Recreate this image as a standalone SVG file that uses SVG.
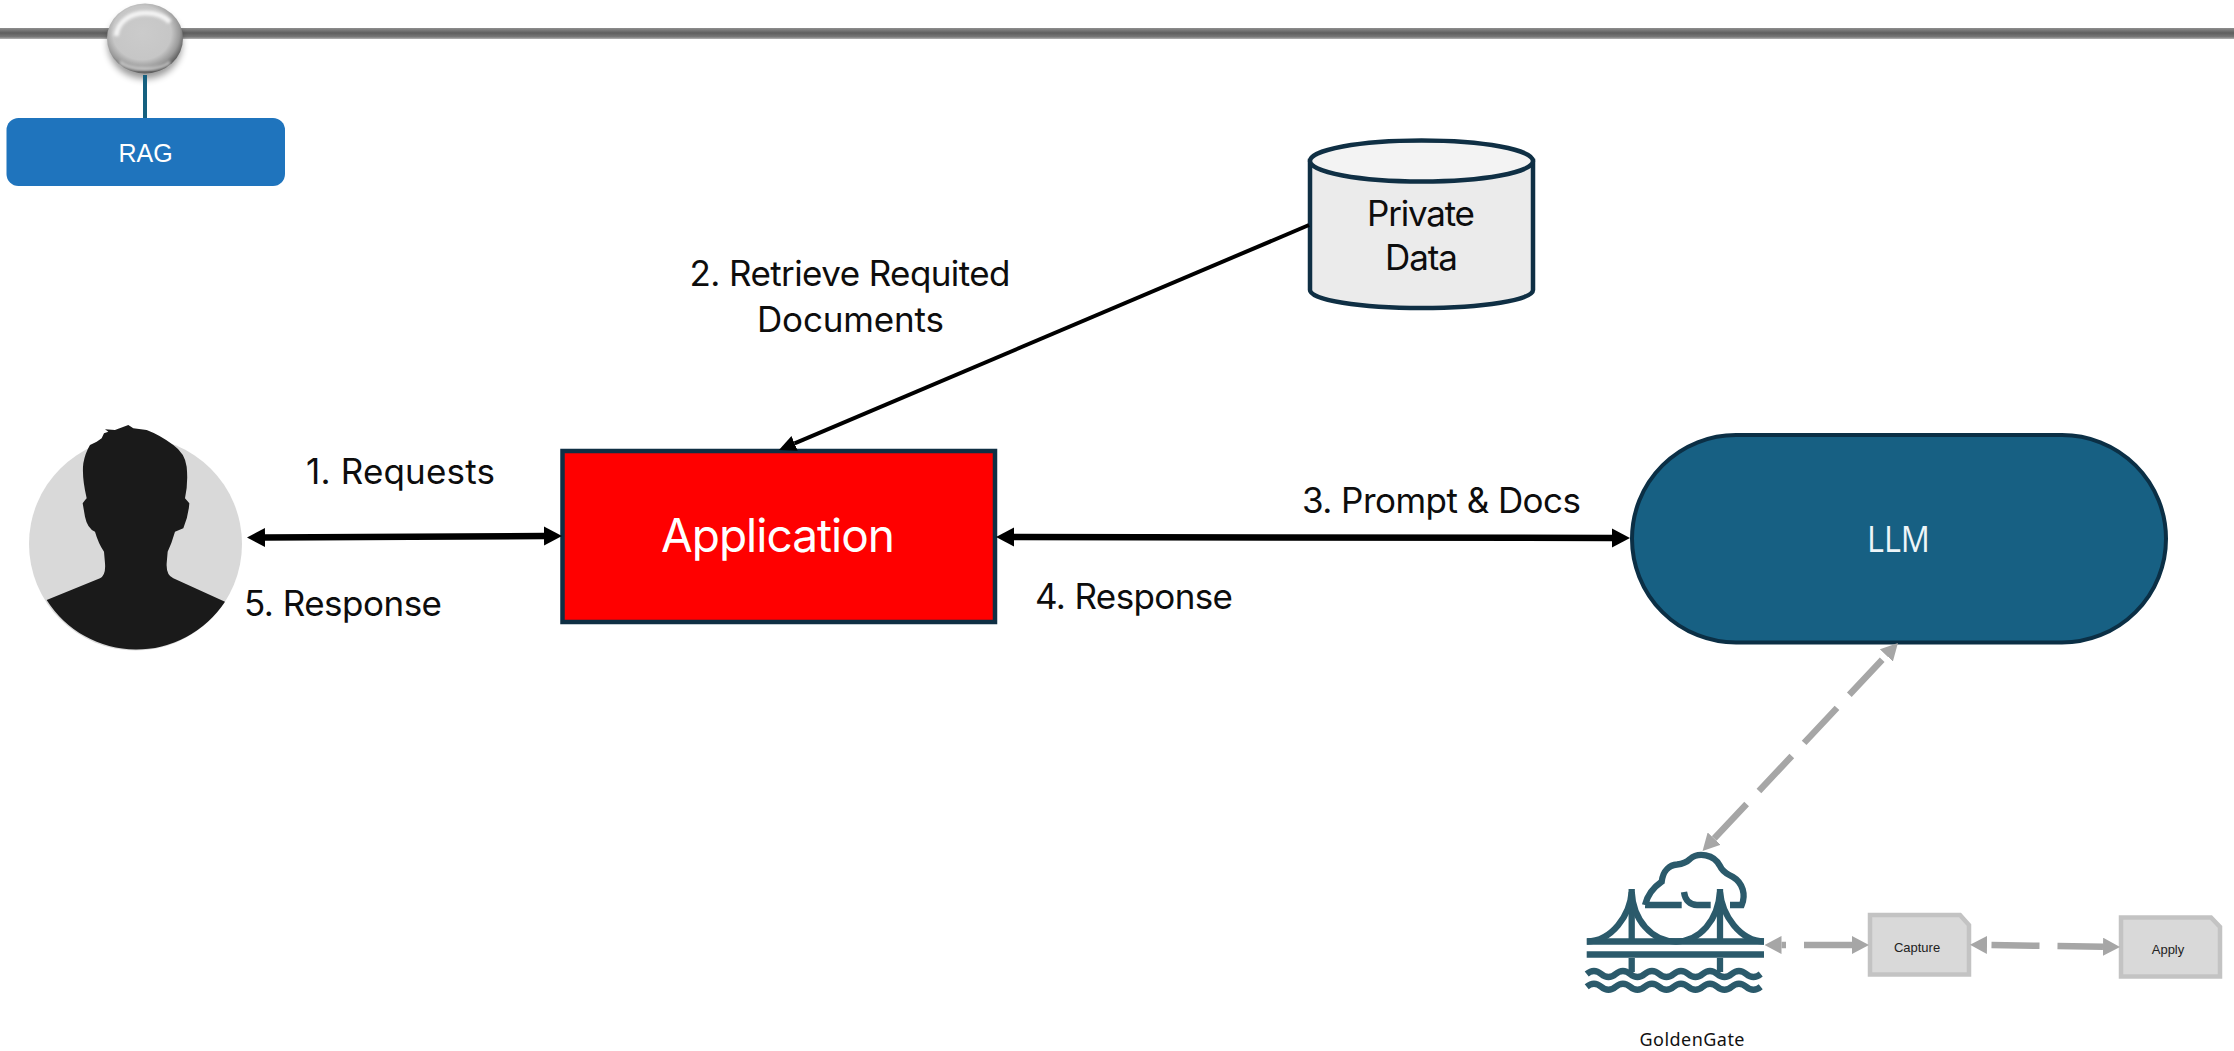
<svg xmlns="http://www.w3.org/2000/svg" width="2234" height="1051" viewBox="0 0 2234 1051">
<style>
text{font-family:"Inter","Roboto","Liberation Sans",sans-serif;fill:#0d0d0d;font-size:35px;text-anchor:middle}
.w{fill:#fff}
.s{font-family:"Liberation Sans",sans-serif;font-size:13px;fill:#222}
.dk{stroke:#0f2f44;stroke-width:4.500}
.con{fill:none;stroke:#000}
.gr{fill:none;stroke:#a6a6a6;stroke-width:6.500}
.ic{fill:none;stroke:#2b5a6b;stroke-width:6.300}
.doc{fill:#d9d9d9;stroke:#c3c3c3;stroke-width:4.500}
</style>
<defs>
<linearGradient id="bar" x1="0" y1="0" x2="0" y2="1"><stop offset="0" stop-color="#8e8e8e"/><stop offset=".45" stop-color="#5e5e5e"/><stop offset=".8" stop-color="#777"/><stop offset="1" stop-color="#b5b5b5"/></linearGradient>
<radialGradient id="ball" cx=".46" cy=".42" r=".62"><stop offset="0" stop-color="#cbcbcb"/><stop offset=".62" stop-color="#c6c6c6"/><stop offset=".8" stop-color="#9a9a9a"/><stop offset="1" stop-color="#3f3f3f"/></radialGradient>
<filter id="blur" x="-30%" y="-30%" width="160%" height="160%"><feGaussianBlur stdDeviation="3.500"/></filter>
<filter id="soft" x="-30%" y="-30%" width="160%" height="160%"><feGaussianBlur stdDeviation="1.800"/></filter>
<marker id="hb" markerUnits="userSpaceOnUse" markerWidth="18" markerHeight="20" refX="0" refY="10" orient="auto-start-reverse"><path d="M0 0.500L18 10L0 19.500Z" fill="#000"/></marker>
<marker id="hn" markerUnits="userSpaceOnUse" markerWidth="17" markerHeight="16" refX="0" refY="8" orient="auto-start-reverse"><path d="M0 0L17 8L0 16Z" fill="#000"/></marker>
<marker id="hg" markerUnits="userSpaceOnUse" markerWidth="17" markerHeight="18" refX="0" refY="9" orient="auto-start-reverse"><path d="M0 0L17 9L0 18Z" fill="#a6a6a6"/></marker>
</defs>
<rect width="2234" height="1051" fill="#fff"/>

<g id="timeline">
<rect x="0" y="28" width="2234" height="11" fill="url(#bar)"/>
<ellipse cx="145" cy="44" rx="37" ry="35" fill="#000" opacity=".4" filter="url(#blur)"/>
<ellipse cx="145" cy="38.500" rx="38" ry="35" fill="url(#ball)"/>
<path d="M116 36C118 20 132 13 146 13C156 13 164 16 170 22" fill="none" stroke="#f4f4f4" stroke-width="5" filter="url(#soft)"/>
<path d="M120 62C130 71 160 71 170 62" fill="none" stroke="#cfcfcf" stroke-width="3" filter="url(#soft)"/>
<path d="M145 75V118" stroke="#15607f" stroke-width="4" fill="none"/>
</g>

<g id="rag">
<rect x="6.500" y="118" width="278.500" height="68" rx="12" fill="#1f74bd"/>
<text class="w" x="145.500" y="161.500" style="font-family:'Liberation Sans',sans-serif;font-size:25px">RAG</text>
</g>

<g id="user">
<circle cx="135.500" cy="544" r="106.500" fill="#d9d9d9"/>
<path transform="translate(0 400) scale(.33333)" fill="#1a1a1a" d="M140 600L300 535Q318 525 315 490L312 455Q295 430 285 395Q262 385 255 350L248 310Q255 300 260 295Q245 230 250 190Q255 160 270 135L290 125L305 115L312 100L325 95L315 88L345 90L385 75L400 85L440 90Q480 105 520 135Q555 160 560 200Q565 250 555 295L568 310Q565 350 550 385L525 395Q515 430 503 455L500 490Q498 525 520 535L675 605A318 318 0 0 1 140 600Z"/>
</g>

<g id="application">
<rect class="dk" x="562.500" y="451" width="432.500" height="171" fill="#f00"/>
<text class="w" x="778" y="552" style="font-size:46px" textLength="234">Application</text>
</g>

<g id="private-data">
<path class="dk" fill="#ebebeb" d="M1310 161V290C1310 300 1360 308 1421.500 308S1533 300 1533 290V161Z"/>
<ellipse class="dk" cx="1421.500" cy="161" rx="111.500" ry="20.500" fill="#f3f3f3"/>
<text x="1421" y="226" textLength="108">Private</text>
<text x="1421.500" y="270" textLength="73">Data</text>
</g>

<g id="llm">
<rect x="1632" y="435" width="534" height="207.500" rx="104" fill="#176083" stroke="#0b2f45" stroke-width="4"/>
<text class="w" x="1898.500" y="551.500" lengthAdjust="spacingAndGlyphs" style="font-family:'Open Sans',sans-serif;font-size:36px;fill:#eef5f8" textLength="63">LLM</text>
</g>

<g id="goldengate">
<path class="ic" d="M1586.700 941.500H1764M1586.700 954.500H1764M1631.700 889V940M1720 889V940M1631.700 958V972M1720 958V972"/>
<path class="ic" d="M1631.700 892C1630 915 1612 941 1587 941.500M1631.700 892C1633 920 1652 941.500 1676 941.500S1718 920 1720 892M1720 892C1722 915 1740 941 1764 941.500"/>
<path class="ic" d="M1645 905C1648 893 1654 887 1661.700 881.700C1663 870 1670 865 1677 864.500C1682 864 1686 863 1690 859C1698 852 1714 854 1720 866C1723 873 1728 874 1733 877C1743 883 1746 895 1741.700 905H1730M1645 905H1681.700M1684 892C1685 900 1690 905 1697 905H1710.700"/>
<path class="ic" d="M1586.700 974q7.250 -6 14.500 0t14.500 0t14.500 0t14.500 0t14.500 0t14.500 0t14.500 0t14.500 0t14.500 0t14.500 0t14.500 0t14.500 0M1586.700 986.700q7.250 -6 14.500 0t14.500 0t14.500 0t14.500 0t14.500 0t14.500 0t14.500 0t14.500 0t14.500 0t14.500 0t14.500 0t14.500 0"/>
<text x="1692" y="1046" style="font-family:'Noto Sans',sans-serif;font-size:18px;fill:#111" textLength="105">GoldenGate</text>
</g>

<g id="capture">
<path class="doc" d="M1870 915H1960L1969 925V974.500H1870Z"/>
<text class="s" x="1917" y="952">Capture</text>
</g>

<g id="apply">
<path class="doc" d="M2121 917.500H2211L2220 927V976.500H2121Z"/>
<text class="s" x="2168" y="954">Apply</text>
</g>

<g id="connectors">
<path class="con" stroke-width="6.500" marker-start="url(#hb)" marker-end="url(#hb)" d="M265 537.500L544 536"/>
<path class="con" stroke-width="6.500" marker-start="url(#hb)" marker-end="url(#hb)" d="M1014 537L1612 538"/>
<path class="con" stroke-width="4" marker-end="url(#hn)" d="M1309 225L794.600 443.400"/>
<path class="gr" stroke-dasharray="48 18" stroke-dashoffset="60" marker-start="url(#hg)" marker-end="url(#hg)" d="M1886.300 655.400L1714.200 838.600"/>
<path class="gr" stroke-dasharray="48 18" marker-start="url(#hg)" marker-end="url(#hg)" d="M1852 945L1781.500 945"/>
<path class="gr" stroke-dasharray="48 18" stroke-dashoffset="61.500" marker-start="url(#hg)" marker-end="url(#hg)" d="M1987 945L2103 946.700"/>
</g>

<g id="labels">
<text x="850" y="286" textLength="321">2. Retrieve Requited</text>
<text x="850.500" y="331.500" textLength="187">Documents</text>
<text x="400.500" y="484" textLength="189">1. Requests</text>
<text x="343" y="616" textLength="198">5. Response</text>
<text x="1441.500" y="513" textLength="279">3. Prompt &amp; Docs</text>
<text x="1134" y="608.500" textLength="198">4. Response</text>
</g>
</svg>
